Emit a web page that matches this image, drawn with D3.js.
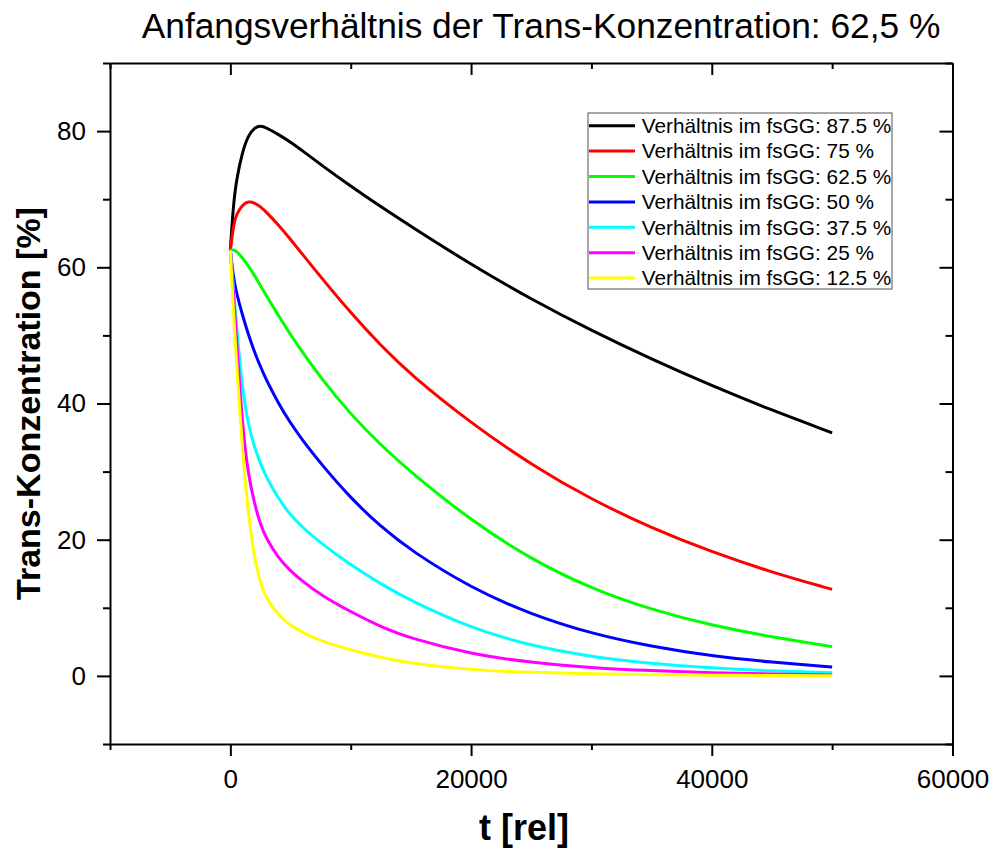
<!DOCTYPE html>
<html><head><meta charset="utf-8">
<script src="https://cdn.jsdelivr.net/npm/d3@7"></script>
<style>body{margin:0;background:#fff} svg{display:block}</style>
</head><body>
<script>
// ---- data ----
const tValues = [0, 250, 500, 1000, 1500, 2000, 2500, 3000, 4000, 5000, 6000, 7500, 10000, 12500, 15000, 20000, 25000, 30000, 35000, 40000, 45000, 50000];
const series875 = [62.5, 69.2, 72.8, 77.0, 79.4, 80.5, 80.8, 80.5, 79.5, 78.4, 77.1, 75.1, 71.9, 68.9, 66.0, 60.4, 55.3, 50.7, 46.5, 42.6, 39.0, 35.7];
const series75  = [62.5, 66.1, 67.8, 69.2, 69.7, 69.5, 68.9, 68.1, 66.2, 64.1, 61.9, 58.6, 53.3, 48.5, 44.2, 37.1, 31.0, 25.9, 21.7, 18.2, 15.2, 12.7];
const series625 = [62.5, 62.6, 62.4, 61.4, 60.2, 58.8, 57.3, 55.8, 52.9, 50.1, 47.5, 43.8, 38.4, 33.9, 29.9, 22.8, 17.1, 12.8, 9.7, 7.4, 5.7, 4.3];
const series50  = [62.5, 58.5, 56.3, 53.0, 50.1, 47.6, 45.4, 43.4, 40.0, 37.1, 34.6, 31.2, 26.1, 21.9, 18.4, 12.9, 9.0, 6.2, 4.3, 2.9, 2.0, 1.3];
const series375 = [62.5, 57.0, 51.5, 42.0, 36.8, 33.6, 31.2, 29.1, 26.0, 23.6, 21.8, 19.5, 16.3, 13.5, 11.0, 7.0, 4.4, 2.8, 1.8, 1.15, 0.72, 0.45];
const series25  = [62.5, 56.3, 50.0, 36.5, 29.4, 25.3, 22.2, 20.1, 17.3, 15.4, 13.9, 11.9, 9.4, 7.2, 5.5, 3.2, 1.95, 1.2, 0.75, 0.45, 0.28, 0.15];
const series125 = [62.5, 53.5, 46.5, 33.0, 23.5, 17.3, 13.5, 11.3, 8.9, 7.4, 6.4, 5.1, 3.8, 2.7, 1.85, 0.85, 0.5, 0.3, 0.18, 0.1, 0.06, 0.03];
const seriesLabels = ["Verhältnis im fsGG: 87.5 %", "Verhältnis im fsGG: 75 %", "Verhältnis im fsGG: 62.5 %", "Verhältnis im fsGG: 50 %", "Verhältnis im fsGG: 37.5 %", "Verhältnis im fsGG: 25 %", "Verhältnis im fsGG: 12.5 %"];
const seriesColors = ["#000000", "#ff0000", "#00ff00", "#0000ff", "#00ffff", "#ff00ff", "#ffff00"];
const xTicks = [0, 20000, 40000, 60000];
const xMinorTicks = [-10000, 10000, 30000, 50000];
const yTicks = [0, 20, 40, 60, 80];
const yMinorTicks = [-10, 10, 30, 50, 70, 90];
const titleText = "Anfangsverhältnis der Trans-Konzentration: 62,5 %";
const xLabel = "t [rel]";
const yLabel = "Trans-Konzentration [%]";

const allSeries = [series875, series75, series625, series50, series375, series25, series125];

// ---- layout ----
const W = 995, H = 850;
const L = 110, R = 952.5, T = 63, B = 744;
const FONT = "'Liberation Sans', Arial, sans-serif";

const svg = d3.select("body").append("svg").attr("width", W).attr("height", H)
  .style("font-family", FONT);
svg.append("rect").attr("width", W).attr("height", H).attr("fill", "#fff");

const x = d3.scaleLinear().domain([-10000, 60000]).range([L, R]);
const y = d3.scaleLinear().domain([-10, 90]).range([B, T]);

// curves
const line = d3.line().x(d => x(d[0])).y(d => y(d[1])).curve(d3.curveBasis);
const gLines = svg.append("g");
allSeries.forEach((vals, i) => {
  const pts = tValues.map((t, k) => [t, vals[k]]);
  gLines.append("path").datum(pts).attr("d", line)
    .attr("fill", "none").attr("stroke", seriesColors[i]).attr("stroke-width", 3)
    .attr("stroke-linejoin", "round").attr("stroke-linecap", "butt");
});

function styleAxis(g, fs) {
  g.selectAll("path.domain").attr("stroke", "#000").attr("stroke-width", 2);
  g.selectAll(".tick line").attr("stroke", "#000").attr("stroke-width", 2);
  g.selectAll(".tick text").attr("fill", "#000").style("font-size", fs + "px").style("font-family", FONT);
}

// left axis
const gLeft = svg.append("g").attr("transform", `translate(${L},0)`)
  .call(d3.axisLeft(y).tickValues(yTicks).tickSize(13).tickSizeOuter(0).tickPadding(11).tickFormat(d3.format("d")));
styleAxis(gLeft, 26);
const gLeftMinor = svg.append("g").attr("transform", `translate(${L},0)`)
  .call(d3.axisLeft(y).tickValues(yMinorTicks).tickSize(7).tickSizeOuter(0).tickFormat(""));
styleAxis(gLeftMinor, 26);
gLeftMinor.select("path.domain").remove();

// bottom axis
const gBottom = svg.append("g").attr("transform", `translate(0,${B})`)
  .call(d3.axisBottom(x).tickValues(xTicks).tickSize(12).tickSizeOuter(0).tickPadding(14).tickFormat(d3.format("d")));
styleAxis(gBottom, 26);
const gBottomMinor = svg.append("g").attr("transform", `translate(0,${B})`)
  .call(d3.axisBottom(x).tickValues(xMinorTicks).tickSize(6).tickSizeOuter(0).tickFormat(""));
styleAxis(gBottomMinor, 26);
gBottomMinor.select("path.domain").remove();

// top axis (inward ticks)
const gTop = svg.append("g").attr("transform", `translate(0,${T})`)
  .call(d3.axisTop(x).tickValues(xTicks).tickSize(-12).tickSizeOuter(0).tickFormat(""));
styleAxis(gTop, 26);
const gTopMinor = svg.append("g").attr("transform", `translate(0,${T})`)
  .call(d3.axisTop(x).tickValues(xMinorTicks).tickSize(-6).tickSizeOuter(0).tickFormat(""));
styleAxis(gTopMinor, 26);
gTopMinor.select("path.domain").remove();

// right axis (inward ticks)
const gRight = svg.append("g").attr("transform", `translate(${R},0)`)
  .call(d3.axisRight(y).tickValues(yTicks).tickSize(-13).tickSizeOuter(0).tickFormat(""));
styleAxis(gRight, 26);
const gRightMinor = svg.append("g").attr("transform", `translate(${R},0)`)
  .call(d3.axisRight(y).tickValues(yMinorTicks).tickSize(-7).tickSizeOuter(0).tickFormat(""));
styleAxis(gRightMinor, 26);
gRightMinor.select("path.domain").remove();

// title
svg.append("text").attr("x", 541).attr("y", 38).attr("text-anchor", "middle")
  .style("font-size", "35.3px").attr("fill", "#000").text(titleText);

// axis labels
svg.append("text").attr("x", 524).attr("y", 840).attr("text-anchor", "middle")
  .style("font-size", "36px").style("font-weight", "bold").attr("fill", "#000").text(xLabel);
svg.append("text").attr("transform", `translate(40,${(T + B) / 2}) rotate(-90)`).attr("text-anchor", "middle")
  .style("font-size", "34px").style("font-weight", "bold").attr("fill", "#000").text(yLabel);

// legend
const lgX0 = 588, lgY0 = 113, lgX1 = 892, lgY1 = 289, rowH = 25.4, firstRow = 125.7;
svg.append("rect").attr("x", lgX0).attr("y", lgY0).attr("width", lgX1 - lgX0).attr("height", lgY1 - lgY0)
  .attr("fill", "#fff").attr("stroke", "#6e6e6e").attr("stroke-width", 1.2);
seriesLabels.forEach((lab, i) => {
  const yy = firstRow + i * rowH;
  svg.append("line").attr("x1", lgX0 + 1).attr("x2", 635).attr("y1", yy).attr("y2", yy)
    .attr("stroke", seriesColors[i]).attr("stroke-width", 3);
  svg.append("text").attr("x", 641.7).attr("y", yy).attr("dy", "0.35em")
    .style("font-size", "20.8px").attr("fill", "#000").text(lab);
});
</script>
</body></html>
